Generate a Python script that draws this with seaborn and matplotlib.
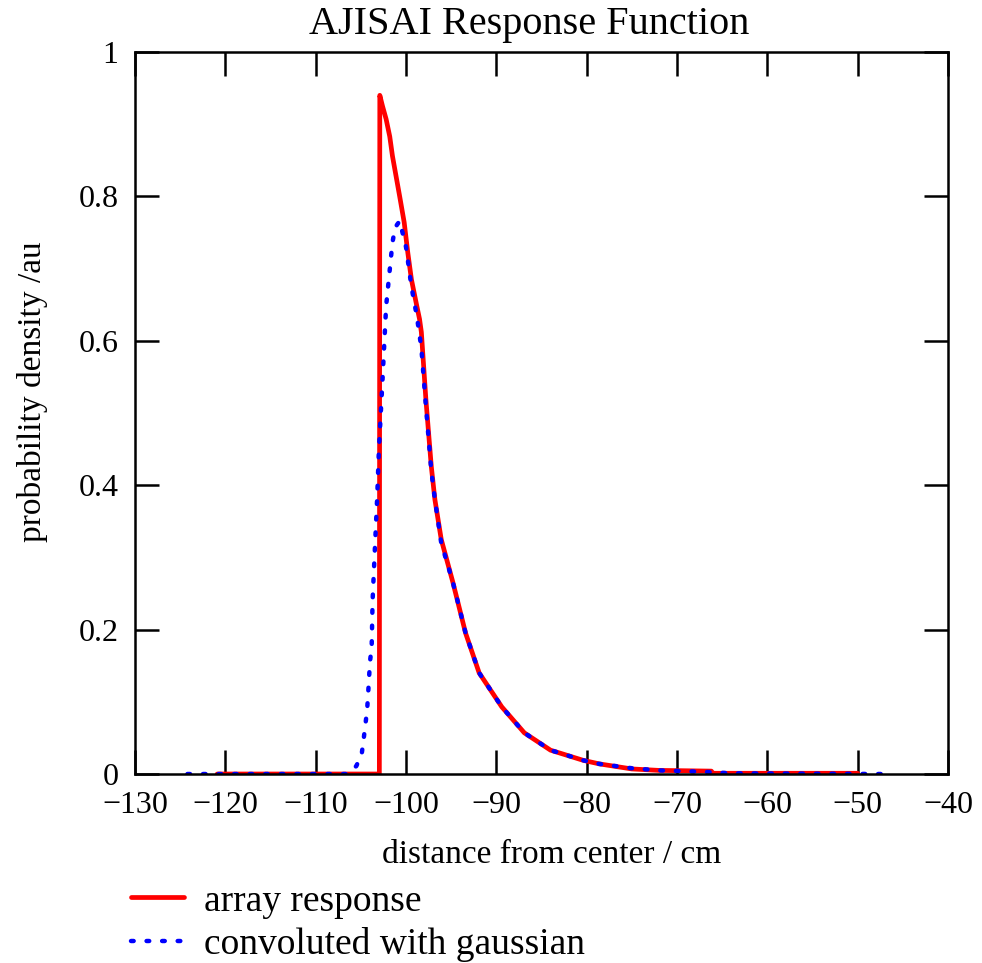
import matplotlib
matplotlib.use("Agg")
import matplotlib.pyplot as plt
import seaborn as sns
import pandas as pd

# ---- data ----
red_x = [-120.9, -102.95, -102.9, -102.6, -102.2, -101.8, -101.5, -101.1, -100.7,
         -100.2, -99.8, -99.4, -98.8, -98.5, -98.3, -97.8, -97.2, -96.8, -96.1,
         -94.8, -93.4, -91.9, -89.4, -86.9, -84.0, -80.4, -78.6, -75.0, -72.0,
         -66.2, -66.0, -50.0]
red_y = [0.0, 0.0, 0.94, 0.925, 0.907, 0.883, 0.856, 0.828, 0.80,
         0.764, 0.722, 0.685, 0.648, 0.63, 0.612, 0.519, 0.426, 0.38, 0.325,
         0.265, 0.195, 0.14, 0.093, 0.057, 0.033, 0.019, 0.014, 0.007, 0.005,
         0.004, 0.001, 0.001]

blue_x = [-124.2, -106.6, -106.3, -105.5, -104.9, -104.7, -104.5, -104.3, -104.2,
          -104.1, -104.0, -103.8, -103.7, -103.4, -103.2, -103.0, -102.6, -102.2,
          -101.5, -101.2, -100.7, -100.0, -99.4, -98.8, -98.3, -97.8, -97.2,
          -96.8, -96.1, -94.8, -93.4, -91.9, -89.4, -86.9, -84.0, -80.4, -78.6,
          -75.0, -72.0, -67.0, -64.0, -47.3]
blue_y = [0.0, 0.0, 0.003, 0.011, 0.028, 0.047, 0.068, 0.089, 0.11,
          0.13, 0.154, 0.176, 0.24, 0.325, 0.38, 0.449, 0.546, 0.648,
          0.736, 0.757, 0.766, 0.73, 0.675, 0.634, 0.59, 0.51, 0.42,
          0.38, 0.32, 0.265, 0.195, 0.14, 0.093, 0.057, 0.033, 0.019, 0.014,
          0.008, 0.005, 0.003, 0.001, 0.0]

series_names = ["array response", "convoluted with gaussian"]
x_ticks = [-130, -120, -110, -100, -90, -80, -70, -60, -50, -40]
x_tick_labels = ["\u2212130", "\u2212120", "\u2212110", "\u2212100", "\u221290",
                 "\u221280", "\u221270", "\u221260", "\u221250", "\u221240"]
y_ticks = [0, 0.2, 0.4, 0.6, 0.8, 1.0]
y_tick_labels = ["0", "0.2", "0.4", "0.6", "0.8", "1"]

# ---- styling ----
sns.set_theme(style="ticks")
plt.rcParams["font.family"] = ["Liberation Serif", "DejaVu Serif"]
plt.rcParams["axes.linewidth"] = 1.8
plt.rcParams["text.color"] = "black"
plt.rcParams["axes.labelcolor"] = "black"
plt.rcParams["xtick.color"] = "black"
plt.rcParams["ytick.color"] = "black"

red_df = pd.DataFrame({"x": red_x, "y": red_y})
blue_df = pd.DataFrame({"x": blue_x, "y": blue_y})

fig = plt.figure(figsize=(9.82, 9.63), dpi=100)
ax = fig.add_axes([135 / 982, 1 - 774 / 963, (948 - 135) / 982, (774 - 52) / 963])

sns.lineplot(data=red_df, x="x", y="y", sort=False, estimator=None, ax=ax,
             color="#ff0000", linewidth=3.4, label=series_names[0])
sns.lineplot(data=blue_df, x="x", y="y", sort=False, estimator=None, ax=ax,
             color="#0000ff", linewidth=3.2, label=series_names[1])
blue_line = ax.get_lines()[1]
blue_line.set_dashes((0.6, 2.9))
blue_line.set_dash_capstyle("round")

ax.set_xlim(-130, -40)
ax.set_ylim(0, 1)
ax.set_xticks(x_ticks)
ax.set_xticklabels(x_tick_labels)
ax.set_yticks(y_ticks)
ax.set_yticklabels(y_tick_labels)
ax.tick_params(direction="in", length=17, width=1.8, top=True, right=True,
               labelsize=23, colors="black")
ax.tick_params(axis="x", pad=12)
ax.tick_params(axis="y", pad=12)
for s in ax.spines.values():
    s.set_color("black")
    s.set_visible(True)

ax.set_xlabel("distance from center / cm", fontsize=24, color="black")
ax.xaxis.set_label_coords((552 - 135) / 813, -(855 - 774) / 722)
ax.xaxis.label.set_va("center")
ax.set_ylabel("probability density /au", fontsize=24, color="black")
ax.yaxis.set_label_coords((33 - 135) / 813, (774 - 392) / 722)
ax.yaxis.label.set_va("center")
ax.set_title("AJISAI Response Function", fontsize=29, pad=13, x=(529.5 - 135) / 813,
             color="black")

handles, labels = ax.get_legend_handles_labels()
ax.get_legend().remove()
leg = fig.legend(handles, labels, loc="upper left", bbox_to_anchor=(131 / 982, 1 - 884 / 963),
                 frameon=False, fontsize=27, handlelength=1.4, handletextpad=0.55,
                 labelspacing=0.23, borderpad=0, borderaxespad=0)
for t in leg.get_texts():
    t.set_color("black")

fig.savefig("out.png", dpi=100, facecolor="white")
